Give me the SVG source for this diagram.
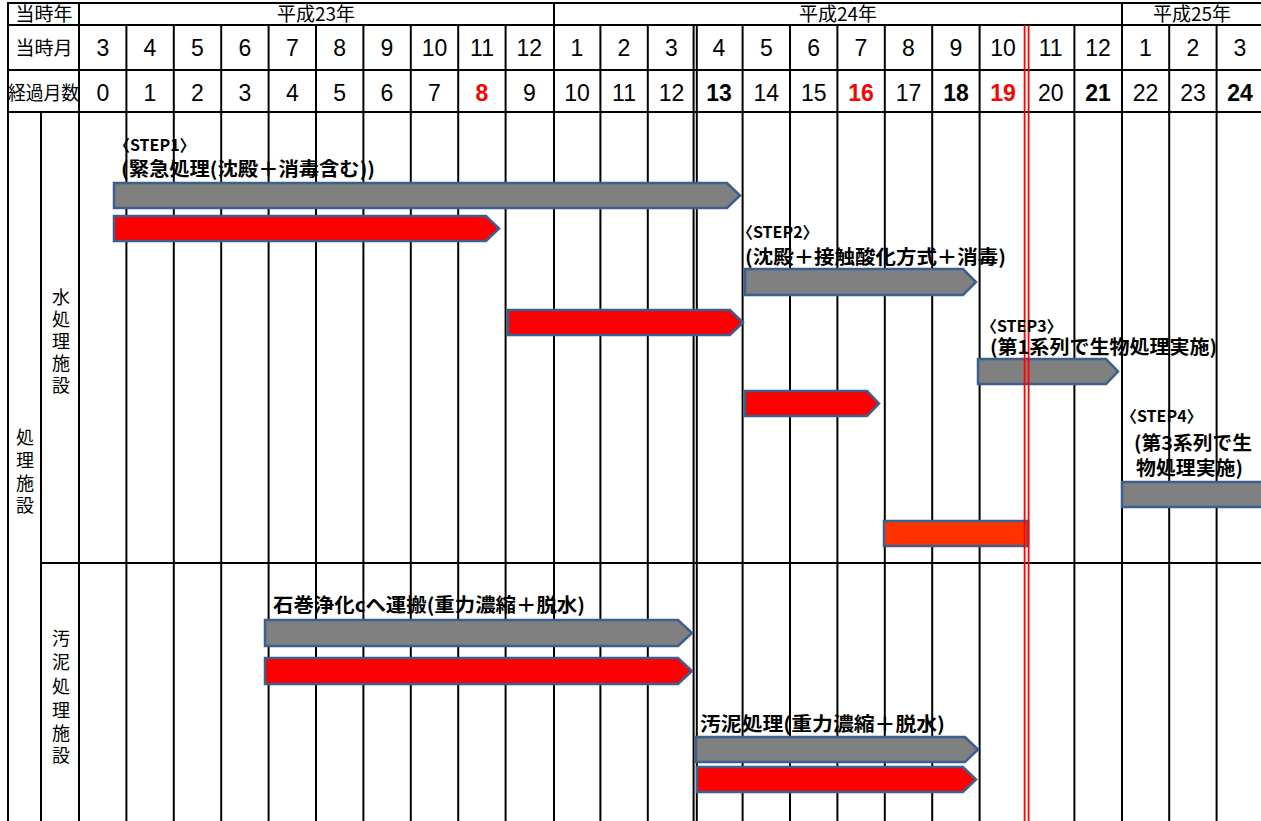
<svg xmlns="http://www.w3.org/2000/svg" width="1261" height="821" viewBox="0 0 1261 821">
<style>
.g line{stroke:#000;stroke-width:2}
.thick{stroke:#000;stroke-width:4}
.dbl{stroke:#000;stroke-width:1.5}
.red{stroke:#FF0000;stroke-width:1.8}
.h{font-family:"Noto Sans CJK JP",sans-serif;font-size:19px;fill:#000;text-anchor:middle}
.n{font-family:"Liberation Sans","Noto Sans CJK JP",sans-serif;font-size:23px;fill:#000;text-anchor:middle}
.nb{font-weight:bold}
.nr{font-weight:bold;fill:#FF0000}
.v{font-family:"Noto Sans CJK JP",sans-serif;font-size:18px;fill:#000;text-anchor:middle}
.lab{font-family:"Noto Sans CJK JP",sans-serif;font-weight:bold;fill:#000}
.s{font-size:16px}
.t{font-size:19px}
.bar{stroke:#3B5F8F;stroke-width:2.5}
.gray{fill:#808080}
.rd{fill:#FF0000}
.or{fill:#FF3300}
</style>
<rect width="1261" height="821" fill="#fff"/>

<g id="grid" class="g">
  <line x1="8" y1="3" x2="1261" y2="3"/>
  <line x1="8" y1="25" x2="1261" y2="25"/>
  <line x1="8" y1="70" x2="1261" y2="70"/>
  <line x1="8" y1="112" x2="1261" y2="112"/>
  <line x1="41" y1="563" x2="1261" y2="563"/>
  <line x1="8" y1="2" x2="8" y2="821"/>
  <line x1="41" y1="112" x2="41" y2="821"/>
  <line x1="79" y1="2" x2="79" y2="821"/>
  <line x1="126.4" y1="25" x2="126.4" y2="821"/>
  <line x1="173.8" y1="25" x2="173.8" y2="821"/>
  <line x1="221.2" y1="25" x2="221.2" y2="821"/>
  <line x1="268.6" y1="25" x2="268.6" y2="821"/>
  <line x1="316" y1="25" x2="316" y2="821"/>
  <line x1="363.4" y1="25" x2="363.4" y2="821"/>
  <line x1="410.8" y1="25" x2="410.8" y2="821"/>
  <line x1="458.2" y1="25" x2="458.2" y2="821"/>
  <line x1="505.6" y1="25" x2="505.6" y2="821"/>
  <line x1="600.4" y1="25" x2="600.4" y2="821"/>
  <line x1="647.8" y1="25" x2="647.8" y2="821"/>
  <line x1="742.6" y1="25" x2="742.6" y2="821"/>
  <line x1="790" y1="25" x2="790" y2="821"/>
  <line x1="837.4" y1="25" x2="837.4" y2="821"/>
  <line x1="884.8" y1="25" x2="884.8" y2="821"/>
  <line x1="932.2" y1="25" x2="932.2" y2="821"/>
  <line x1="979.6" y1="25" x2="979.6" y2="821"/>
  <line x1="1074.4" y1="25" x2="1074.4" y2="821"/>
  <line x1="1169.2" y1="25" x2="1169.2" y2="821"/>
  <line x1="1216.6" y1="25" x2="1216.6" y2="821"/>
  <line class="thick" x1="554" y1="2" x2="554" y2="821"/>
  <line class="thick" x1="1122" y1="2" x2="1122" y2="821"/>
  <line class="dbl" x1="693.6" y1="25" x2="693.6" y2="821"/>
  <line class="dbl" x1="696.8" y1="25" x2="696.8" y2="821"/>
</g>

<g id="header">
  <text class="h" x="44" y="21">当時年</text>
  <text class="h" x="316" y="21">平成23年</text>
  <text class="h" x="838" y="21">平成24年</text>
  <text class="h" x="1192" y="21">平成25年</text>
  <text class="h" x="44" y="55">当時月</text>
  <text class="h" x="43.5" y="100" textLength="71" lengthAdjust="spacingAndGlyphs">経過月数</text>
  <g id="months">
    <text class="n" x="103" y="56">3</text>
    <text class="n" x="150" y="56">4</text>
    <text class="n" x="197.5" y="56">5</text>
    <text class="n" x="245" y="56">6</text>
    <text class="n" x="292.3" y="56">7</text>
    <text class="n" x="339.7" y="56">8</text>
    <text class="n" x="387" y="56">9</text>
    <text class="n" x="434.5" y="56">10</text>
    <text class="n" x="482" y="56">11</text>
    <text class="n" x="529.3" y="56">12</text>
    <text class="n" x="577" y="56">1</text>
    <text class="n" x="624" y="56">2</text>
    <text class="n" x="671.5" y="56">3</text>
    <text class="n" x="719" y="56">4</text>
    <text class="n" x="766.3" y="56">5</text>
    <text class="n" x="813.7" y="56">6</text>
    <text class="n" x="861" y="56">7</text>
    <text class="n" x="908.5" y="56">8</text>
    <text class="n" x="956" y="56">9</text>
    <text class="n" x="1003" y="56">10</text>
    <text class="n" x="1050.7" y="56">11</text>
    <text class="n" x="1098" y="56">12</text>
    <text class="n" x="1145.5" y="56">1</text>
    <text class="n" x="1193" y="56">2</text>
    <text class="n" x="1240" y="56">3</text>
  </g>
  <g id="elapsed">
    <text class="n" x="103" y="101">0</text>
    <text class="n" x="150" y="101">1</text>
    <text class="n" x="197.5" y="101">2</text>
    <text class="n" x="245" y="101">3</text>
    <text class="n" x="292.3" y="101">4</text>
    <text class="n" x="339.7" y="101">5</text>
    <text class="n" x="387" y="101">6</text>
    <text class="n" x="434.5" y="101">7</text>
    <text class="n nr" x="482" y="101">8</text>
    <text class="n" x="529.3" y="101">9</text>
    <text class="n" x="577" y="101">10</text>
    <text class="n" x="624" y="101">11</text>
    <text class="n" x="671.5" y="101">12</text>
    <text class="n nb" x="719" y="101">13</text>
    <text class="n" x="766.3" y="101">14</text>
    <text class="n" x="813.7" y="101">15</text>
    <text class="n nr" x="861" y="101">16</text>
    <text class="n" x="908.5" y="101">17</text>
    <text class="n nb" x="956" y="101">18</text>
    <text class="n nr" x="1003" y="101">19</text>
    <text class="n" x="1050.7" y="101">20</text>
    <text class="n nb" x="1098" y="101">21</text>
    <text class="n" x="1145.5" y="101">22</text>
    <text class="n" x="1193" y="101">23</text>
    <text class="n nb" x="1240" y="101">24</text>
  </g>
</g>

<g id="row-labels">
  <g id="label-shori">
    <text class="v" x="25" y="444">処</text>
    <text class="v" x="25" y="467">理</text>
    <text class="v" x="25" y="490">施</text>
    <text class="v" x="25" y="512">設</text>
  </g>
  <g id="label-mizu">
    <text class="v" x="61" y="304">水</text>
    <text class="v" x="61" y="326">処</text>
    <text class="v" x="61" y="348">理</text>
    <text class="v" x="61" y="370">施</text>
    <text class="v" x="61" y="392">設</text>
  </g>
  <g id="label-odei">
    <text class="v" x="61" y="645">汚</text>
    <text class="v" x="61" y="669">泥</text>
    <text class="v" x="61" y="693">処</text>
    <text class="v" x="61" y="717">理</text>
    <text class="v" x="61" y="740">施</text>
    <text class="v" x="61" y="762">設</text>
  </g>
</g>

<g id="bars">
  <polygon id="step1-gray" class="bar gray" points="114,183 727,183 740,195.5 727,208 114,208"/>
  <polygon id="step1-red" class="bar rd" points="114,216 486,216 499,228.5 486,241 114,241"/>
  <polygon id="step2-red" class="bar rd" points="508,310 730,310 743,322.5 730,335 508,335"/>
  <polygon id="step2-gray" class="bar gray" points="745,269 963,269 976,282 963,295 745,295"/>
  <polygon id="step3-gray" class="bar gray" points="978,359 1106,359 1118,371.5 1106,384 978,384"/>
  <polygon id="step3-red" class="bar rd" points="745,391 867,391 879,403.5 867,416 745,416"/>
  <rect id="step4-gray" class="bar gray" x="1122" y="482" width="145" height="25"/>
  <rect id="step4-red" class="bar or" x="884" y="521" width="144" height="25"/>
  <polygon id="sludge1-gray" class="bar gray" points="265,620 678,620 692,633 678,646 265,646"/>
  <polygon id="sludge1-red" class="bar rd" points="265,658 678,658 692,671 678,684 265,684"/>
  <polygon id="sludge2-gray" class="bar gray" points="696,737 965,737 978,749.5 965,762 696,762"/>
  <polygon id="sludge2-red" class="bar rd" points="697,767 963,767 976,779.5 963,792 697,792"/>
</g>

<g id="redline">
  <line class="red" x1="1024.6" y1="25" x2="1024.6" y2="821"/>
  <line class="red" x1="1028.6" y1="25" x2="1028.6" y2="821"/>
</g>

<g id="labels">
  <text class="lab s" x="114" y="151">〈STEP1〉</text>
  <text class="lab t" x="121" y="176" textLength="254" lengthAdjust="spacingAndGlyphs">(緊急処理(沈殿＋消毒含む))</text>
  <text class="lab s" x="737" y="238">〈STEP2〉</text>
  <text class="lab t" x="745" y="264" textLength="261" lengthAdjust="spacingAndGlyphs">(沈殿＋接触酸化方式＋消毒)</text>
  <text class="lab s" x="981" y="332">〈STEP3〉</text>
  <text class="lab t" x="990" y="354" textLength="227" lengthAdjust="spacingAndGlyphs">(第1系列で生物処理実施)</text>
  <text class="lab s" x="1121" y="422">〈STEP4〉</text>
  <text class="lab t" x="1134" y="450" textLength="118" lengthAdjust="spacingAndGlyphs">(第3系列で生</text>
  <text class="lab t" x="1136" y="475" textLength="107" lengthAdjust="spacingAndGlyphs">物処理実施)</text>
  <text class="lab t" x="273" y="612" textLength="312" lengthAdjust="spacingAndGlyphs">石巻浄化cへ運搬(重力濃縮＋脱水)</text>
  <text class="lab t" x="700" y="731" textLength="245" lengthAdjust="spacingAndGlyphs">汚泥処理(重力濃縮＋脱水)</text>
</g>
</svg>
